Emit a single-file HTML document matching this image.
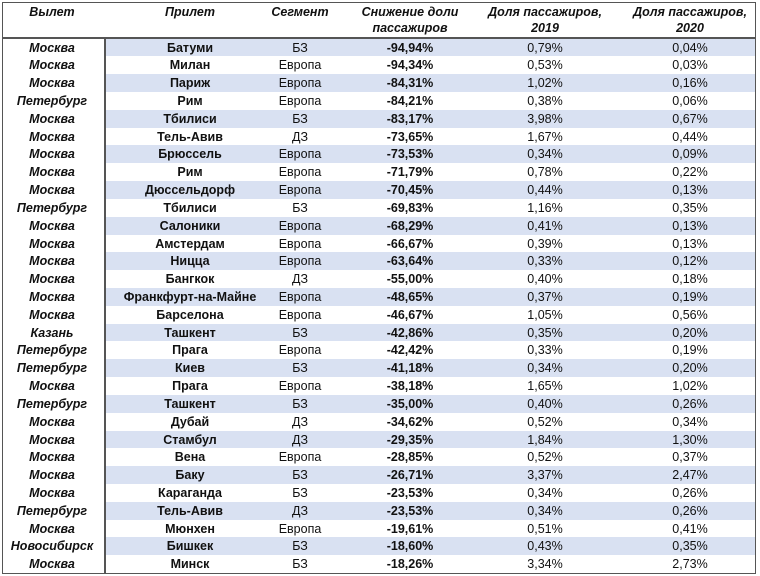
<!DOCTYPE html>
<html><head><meta charset="utf-8"><style>
body{margin:0;width:760px;height:576px;background:#fff;font-family:"Liberation Sans","Noto Sans CJK SC",sans-serif;overflow:hidden;position:relative}
#frame{position:absolute;left:2px;top:2px;width:754px;height:572px;border:1.5px solid #555;box-sizing:border-box;z-index:5}
.h{position:absolute;width:200px;text-align:center;font-style:italic;font-weight:bold;font-size:12.5px;color:#111;line-height:16px}
.c{position:absolute;width:200px;text-align:center;font-size:12.5px;color:#111;line-height:18px}
.bg{position:absolute;left:104px;width:652px;background:#d9e1f2}
.ln{position:absolute;background:#555;z-index:5}
</style></head><body>
<div id="frame"></div>
<div id="hdr"></div><div id="rows"></div>
<div class="ln" style="left:3px;top:37px;width:753px;height:1.5px"></div>
<div class="ln" style="left:104px;top:38px;width:1.5px;height:535px"></div>
<script>
const from=["Москва","Москва","Москва","Петербург","Москва","Москва","Москва","Москва","Москва","Петербург","Москва","Москва","Москва","Москва","Москва","Москва","Казань","Петербург","Петербург","Москва","Петербург","Москва","Москва","Москва","Москва","Москва","Петербург","Москва","Новосибирск","Москва"];
const to=["Батуми","Милан","Париж","Рим","Тбилиси","Тель-Авив","Брюссель","Рим","Дюссельдорф","Тбилиси","Салоники","Амстердам","Ницца","Бангкок","Франкфурт-на-Майне","Барселона","Ташкент","Прага","Киев","Прага","Ташкент","Дубай","Стамбул","Вена","Баку","Караганда","Тель-Авив","Мюнхен","Бишкек","Минск"];
const seg=["БЗ","Европа","Европа","Европа","БЗ","ДЗ","Европа","Европа","Европа","БЗ","Европа","Европа","Европа","ДЗ","Европа","Европа","БЗ","Европа","БЗ","Европа","БЗ","ДЗ","ДЗ","Европа","БЗ","БЗ","ДЗ","Европа","БЗ","БЗ"];
const drop=["-94,94%","-94,34%","-84,31%","-84,21%","-83,17%","-73,65%","-73,53%","-71,79%","-70,45%","-69,83%","-68,29%","-66,67%","-63,64%","-55,00%","-48,65%","-46,67%","-42,86%","-42,42%","-41,18%","-38,18%","-35,00%","-34,62%","-29,35%","-28,85%","-26,71%","-23,53%","-23,53%","-19,61%","-18,60%","-18,26%"];
const s2019=["0,79%","0,53%","1,02%","0,38%","3,98%","1,67%","0,34%","0,78%","0,44%","1,16%","0,41%","0,39%","0,33%","0,40%","0,37%","1,05%","0,35%","0,33%","0,34%","1,65%","0,40%","0,52%","1,84%","0,52%","3,37%","0,34%","0,34%","0,51%","0,43%","3,34%"];
const s2020=["0,04%","0,03%","0,16%","0,06%","0,67%","0,44%","0,09%","0,22%","0,13%","0,35%","0,13%","0,13%","0,12%","0,18%","0,19%","0,56%","0,20%","0,19%","0,20%","1,02%","0,26%","0,34%","1,30%","0,37%","2,47%","0,26%","0,26%","0,41%","0,35%","2,73%"];
const centers=[52,190,300,410,545,690];
const hdrs=[["Вылет"],["Прилет"],["Сегмент"],["Снижение доли","пассажиров"],["Доля пассажиров,","2019"],["Доля пассажиров,","2020"]];
const hnames=["header-departure","header-arrival","header-segment","header-decline","header-share-2019","header-share-2020"];
const H=document.getElementById('hdr');
hdrs.forEach((h,i)=>{const d=document.createElement('div');d.className='h';


d.style.left=(centers[i]-100)+'px';d.style.top='4px';d.innerHTML=h.join('<br>');H.appendChild(d);});
const R=document.getElementById('rows');const top0=38.5,rh=17.82;
const cols=[from,to,seg,drop,s2019,s2020];
const cnames=["departure-cell","arrival-cell","segment-cell","decline-cell","share-2019-cell","share-2020-cell"];
for(let r=0;r<from.length;r++){
 const y=top0+r*rh;
 if(r%2===0){const b=document.createElement('div');b.className='bg';
 
 
 b.style.top=y+'px';b.style.height=rh+'px';R.appendChild(b);}
 cols.forEach((c,i)=>{const d=document.createElement('div');d.className='c';
 
 
 d.style.left=(centers[i]-100)+'px';d.style.top=y+'px';
 if(i===0){d.style.fontWeight='bold';d.style.fontStyle='italic';}
 if(i===1||i===3)d.style.fontWeight='bold';
 d.textContent=c[r];R.appendChild(d);});
}
</script>
</body></html>
